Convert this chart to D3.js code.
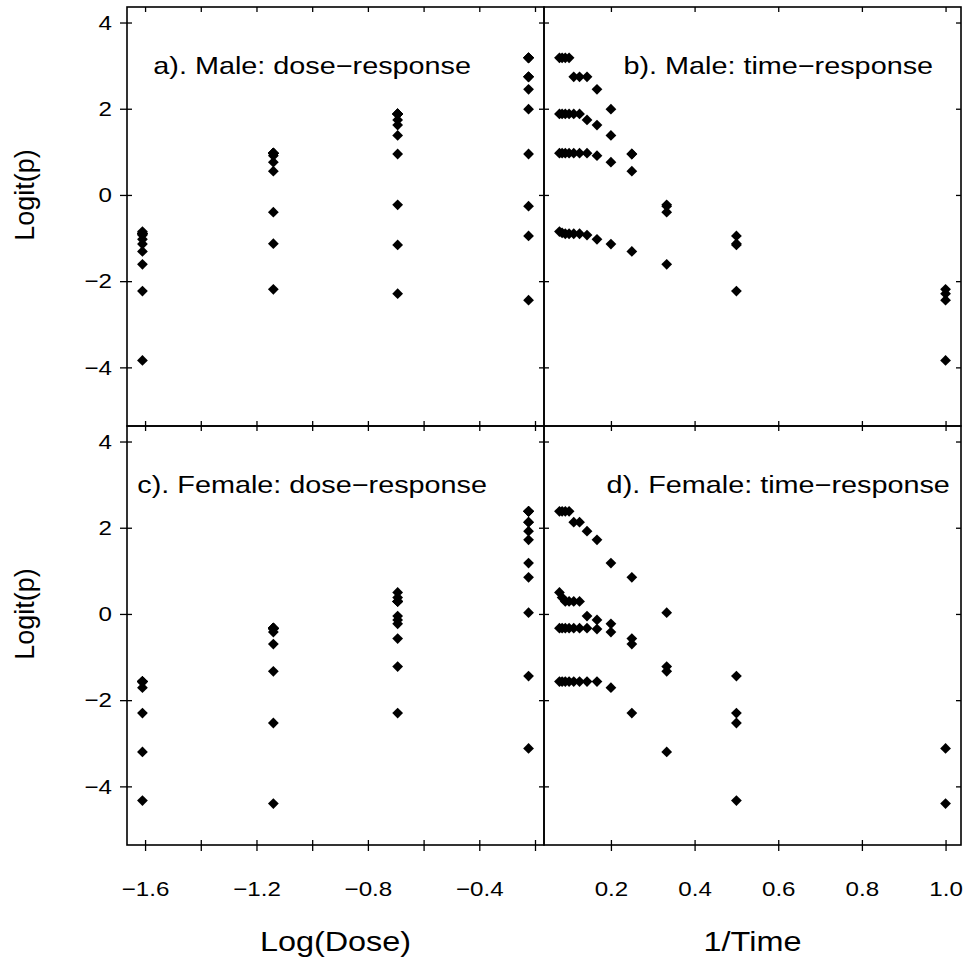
<!DOCTYPE html>
<html>
<head>
<meta charset="utf-8">
<script src="https://cdn.jsdelivr.net/npm/d3@7"></script>
<style>
  body { margin: 0; background: #fff; }
  text { font-family: "Liberation Sans", Arial, sans-serif; fill: #000; }
</style>
</head>
<body>
<div id="chart-area"></div>
<script>
// doses and observation times
const doses = [0.2, 0.32, 0.5, 0.8];
const times = [1, 2, 3, 4, 5, 6, 7, 8, 9, 10, 11, 12, 13];

// logit(p) by time (1..13), one array per dose
const male020 = [-3.84, -2.23, -1.61, -1.31, -1.14, -1.03, -0.93, -0.90, -0.90, -0.90, -0.90, -0.88, -0.85];
const male032 = [-2.19, -1.13, -0.40, 0.55, 0.76, 0.91, 0.97, 0.97, 0.97, 0.97, 0.97, 0.97, 0.97];
const male050 = [-2.29, -1.16, -0.23, 0.95, 1.38, 1.62, 1.74, 1.88, 1.88, 1.88, 1.88, 1.88, 1.88];
const male080 = [-2.44, -0.95, -0.26, 0.95, 1.99, 2.45, 2.74, 2.74, 2.74, 3.18, 3.18, 3.18, 3.18];

const female020 = [null, -4.33, -3.20, -2.30, -1.71, -1.57, -1.57, -1.57, -1.57, -1.57, -1.57, -1.57, -1.57];
const female032 = [-4.40, -2.53, -1.33, -0.70, -0.42, -0.35, -0.33, -0.33, -0.33, -0.33, -0.33, -0.33, -0.33];
const female050 = [null, -2.30, -1.22, -0.57, -0.23, -0.14, -0.05, 0.29, 0.29, 0.29, 0.29, 0.38, 0.50];
const female080 = [-3.12, -1.44, 0.03, 0.85, 1.18, 1.72, 1.92, 2.13, 2.13, 2.38, 2.38, 2.38, 2.38];

// ticks
const doseTicks = [-1.6, -1.4, -1.2, -1.0, -0.8, -0.6, -0.4, -0.2];
const doseTickLabels = [-1.6, -1.2, -0.8, -0.4];
const timeTicks = [0.2, 0.4, 0.6, 0.8, 1.0];
const yTicks = [-4, -2, 0, 2, 4];
const yLimits = [-5, 4];

const titles = ["a). Male: dose\u2212response", "b). Male: time\u2212response",
                "c). Female: dose\u2212response", "d). Female: time\u2212response"];

const svgWidth = 969, svgHeight = 961;
const margin = {left: 127, top: 7};
const panelW = 417, panelH = 419;
const stretch = 1.2;      // the lettering is a bit wide in the original
const tickStretch = 1.15;

const svg = d3.select("#chart-area")
  .append("svg")
  .attr("width", svgWidth)
  .attr("height", svgHeight);

// R style 4% padding
function pad(ext) {
  const d = (ext[1] - ext[0]) * 0.04;
  return [ext[0] - d, ext[1] + d];
}

const logDose = doses.map(d => Math.log(d));
const invTime = times.map(t => 1 / t);

const xDose = d3.scaleLinear().domain(pad(d3.extent(logDose))).range([0, panelW]);
const xTime = d3.scaleLinear().domain(pad(d3.extent(invTime))).range([0, panelW]);
const y = d3.scaleLinear().domain(pad(yLimits)).range([panelH, 0]);

function toPoints(rows) {
  const pts = [];
  rows.forEach((row, i) => {
    row.forEach((v, j) => {
      if (v !== null) pts.push({dose: logDose[i], time: invTime[j], value: v});
    });
  });
  return pts;
}

const malePts = toPoints([male020, male032, male050, male080]);
const femalePts = toPoints([female020, female032, female050, female080]);

const diamond = {
  draw(context, size) {
    const r = Math.sqrt(size / 2);
    context.moveTo(0, -r);
    context.lineTo(r, 0);
    context.lineTo(0, r);
    context.lineTo(-r, 0);
    context.closePath();
  }
};
const symbol = d3.symbol().type(diamond).size(58);

const panels = [
  {row: 0, col: 0, pts: malePts, x: xDose, key: "dose", ticks: doseTicks, tx: -1.0},
  {row: 0, col: 1, pts: malePts, x: xTime, key: "time", ticks: timeTicks, tx: 0.6},
  {row: 1, col: 0, pts: femalePts, x: xDose, key: "dose", ticks: doseTicks, tx: -1.0},
  {row: 1, col: 1, pts: femalePts, x: xTime, key: "time", ticks: timeTicks, tx: 0.6}
];

panels.forEach((p, i) => {
  const g = svg.append("g")
    .attr("transform", `translate(${margin.left + p.col * panelW}, ${margin.top + p.row * panelH})`);

  // inward ticks on all four sides
  const sides = [
    {axis: d3.axisBottom(p.x).tickValues(p.ticks), t: `translate(0, ${panelH})`},
    {axis: d3.axisTop(p.x).tickValues(p.ticks), t: null},
    {axis: d3.axisLeft(y).tickValues(yTicks), t: null},
    {axis: d3.axisRight(y).tickValues(yTicks), t: `translate(${panelW}, 0)`}
  ];
  sides.forEach(s => {
    const a = g.append("g")
      .call(s.axis.tickSizeInner(-5).tickSizeOuter(0).tickFormat(""));
    if (s.t) a.attr("transform", s.t);
    a.select(".domain").remove();
    a.selectAll("line").attr("stroke", "#000").attr("stroke-width", 1.3);
  });

  // outer y axis with labels
  if (p.col === 0) {
    const ya = g.append("g")
      .call(d3.axisLeft(y).tickValues(yTicks).tickSize(7).tickPadding(8).tickFormat(d3.format("d")));
    ya.select(".domain").remove();
    ya.selectAll("line").attr("stroke", "#000").attr("stroke-width", 1.3);
    ya.selectAll("text")
      .attr("font-size", "21px")
      .attr("font-family", "Liberation Sans, Arial, sans-serif")
      .attr("x", -15 / tickStretch)
      .attr("transform", `scale(${tickStretch}, 1)`);

    g.append("text")
      .attr("transform", `translate(-93, ${y(0)}) rotate(-90)`)
      .attr("text-anchor", "middle")
      .attr("font-size", "27px")
      .text("Logit(p)");
  }

  // outer x axis with labels
  if (p.row === 1) {
    const xa = g.append("g")
      .attr("transform", `translate(0, ${panelH})`)
      .call(d3.axisBottom(p.x).tickValues(p.ticks).tickSize(6).tickPadding(30)
        .tickFormat(d => (p.key === "dose" && !doseTickLabels.some(v => Math.abs(v - d) < 1e-9)) ? "" : d3.format(".1f")(d)));
    xa.select(".domain").remove();
    xa.selectAll("line").attr("stroke", "#000").attr("stroke-width", 1.3);
    xa.selectAll("text")
      .attr("font-size", "21px")
      .attr("font-family", "Liberation Sans, Arial, sans-serif")
      .attr("transform", `scale(${tickStretch}, 1)`);

    g.append("text")
      .attr("transform", `translate(${panelW / 2}, ${panelH + 106}) scale(${stretch}, 1)`)
      .attr("text-anchor", "middle")
      .attr("font-size", "27px")
      .text(p.key === "dose" ? "Log(Dose)" : "1/Time");
  }

  // frame
  g.append("rect")
    .attr("width", panelW)
    .attr("height", panelH)
    .attr("fill", "none")
    .attr("stroke", "#000")
    .attr("stroke-width", 1.6);

  g.selectAll("path.pt")
    .data(p.pts)
    .enter().append("path")
    .attr("class", "pt")
    .attr("d", symbol)
    .attr("transform", d => `translate(${p.x(d[p.key])}, ${y(d.value)})`)
    .attr("fill", "#000");

  g.append("text")
    .attr("transform", `translate(${p.x(p.tx)}, ${y(3)}) scale(${stretch}, 1)`)
    .attr("dy", "0.35em")
    .attr("text-anchor", "middle")
    .attr("font-size", "24px")
    .text(titles[i]);
});
</script>
</body>
</html>
